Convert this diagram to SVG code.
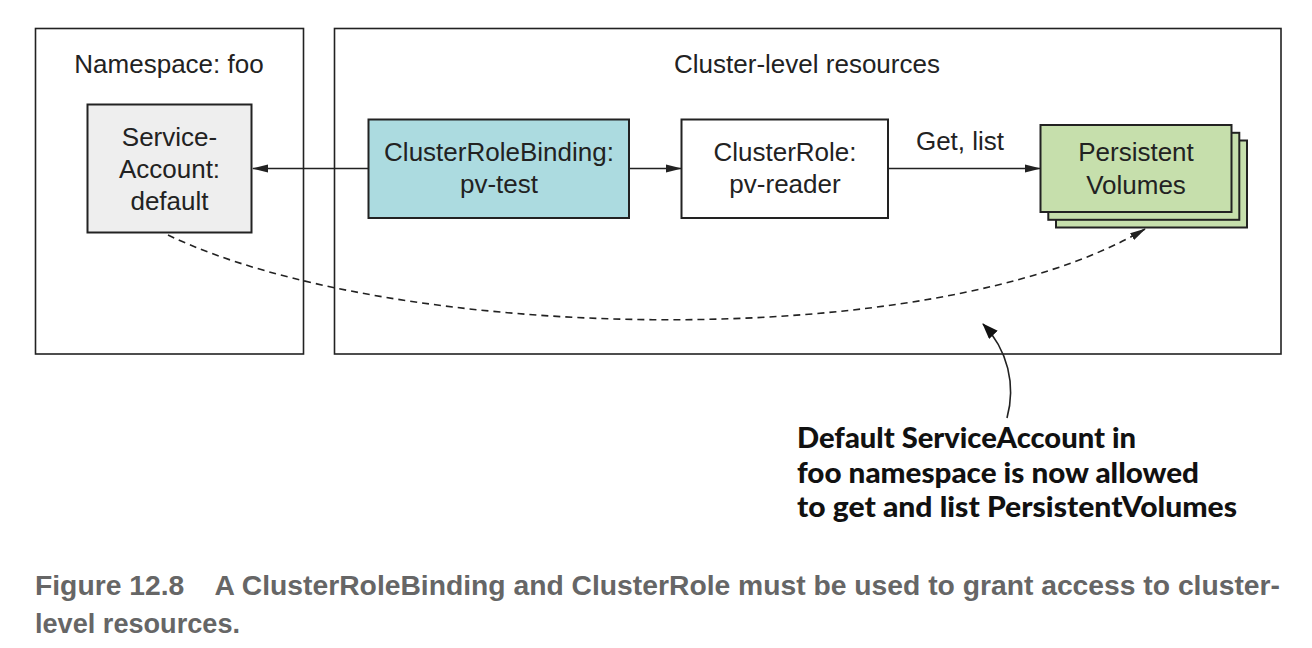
<svg xmlns="http://www.w3.org/2000/svg" width="1312" height="648" viewBox="0 0 1312 648">
<style>
.box{stroke:#222;stroke-width:2}
.frame{fill:none;stroke:#222;stroke-width:1.6}
.t{font-family:"Liberation Sans",Arial,sans-serif;font-size:26px;fill:#222;text-anchor:middle}
.conn{fill:none;stroke:#222;stroke-width:1.6}
.dash{fill:none;stroke:#222;stroke-width:1.6;stroke-dasharray:7 5}
.call{font-family:Lato,"Open Sans",sans-serif;font-weight:900;font-size:29px;fill:#111}
.cap{font-family:"Liberation Sans",Arial,sans-serif;font-weight:bold;font-size:27px;fill:#666}
</style>
<defs>
<marker id="ah" viewBox="0 0 16 10" refX="15" refY="5" markerWidth="16" markerHeight="10" markerUnits="userSpaceOnUse" orient="auto">
<path d="M0,1 L16,5 L0,9 z" fill="#222"/>
</marker>
<marker id="ah2" viewBox="0 0 16 12" refX="15" refY="6" markerWidth="16" markerHeight="12" markerUnits="userSpaceOnUse" orient="auto">
<path d="M0,0 L16,6 L0,12 z" fill="#111"/>
</marker>
</defs>
<rect width="1312" height="648" fill="#fff"/>

<g id="ns-foo">
<rect class="frame" x="35.5" y="28.5" width="268" height="325.5"/>
<text class="t" x="169" y="73">Namespace: foo</text>
</g>
<g id="cluster-level">
<rect class="frame" x="334.5" y="28.5" width="946.5" height="325.5"/>
<text class="t" x="807" y="73">Cluster-level resources</text>
</g>

<g id="connectors">
<line class="conn" x1="368" y1="168.5" x2="253" y2="168.5" marker-end="url(#ah)"/>
<line class="conn" x1="630" y1="168.5" x2="681" y2="168.5" marker-end="url(#ah)"/>
<line class="conn" x1="889" y1="168.5" x2="1040" y2="168.5" marker-end="url(#ah)"/>
<path class="dash" d="M168,235 C390,342 930,356 1145,229" marker-end="url(#ah)"/>
<path class="conn" d="M1007,418 C1016,385 1008,350 983,324" marker-end="url(#ah2)"/>
<text class="t" x="960" y="150">Get, list</text>
</g>

<g id="serviceaccount">
<rect class="box" x="87.5" y="104.5" width="164" height="128" fill="#eeeeee"/>
<text class="t" x="169.5" y="146">Service-</text>
<text class="t" x="169.5" y="178">Account:</text>
<text class="t" x="169.5" y="210">default</text>
</g>

<g id="clusterrolebinding">
<rect class="box" x="368.5" y="119.5" width="260.5" height="98.5" fill="#acdbe0"/>
<text class="t" x="499" y="161">ClusterRoleBinding:</text>
<text class="t" x="499" y="193">pv-test</text>
</g>

<g id="clusterrole">
<rect class="box" x="681.5" y="119.5" width="206.5" height="98.5" fill="#fff"/>
<text class="t" x="785" y="161">ClusterRole:</text>
<text class="t" x="785" y="193">pv-reader</text>
</g>

<g id="persistentvolumes">
<rect class="box" x="1056" y="140.5" width="191" height="87" fill="#c6dfac"/>
<rect class="box" x="1048.3" y="132.8" width="191" height="87" fill="#c6dfac"/>
<rect class="box" x="1040.5" y="125" width="191" height="87" fill="#c6dfac"/>
<text class="t" x="1136" y="161">Persistent</text>
<text class="t" x="1136" y="194">Volumes</text>
</g>

<g id="callout">
<text class="call" x="797" y="448" textLength="339" lengthAdjust="spacingAndGlyphs">Default ServiceAccount in</text>
<text class="call" x="797" y="483" textLength="402" lengthAdjust="spacingAndGlyphs">foo namespace is now allowed</text>
<text class="call" x="797" y="517" textLength="440" lengthAdjust="spacingAndGlyphs">to get and list PersistentVolumes</text>
</g>

<g id="caption">
<text class="cap" x="35" y="595" textLength="1245" lengthAdjust="spacingAndGlyphs" xml:space="preserve">Figure 12.8    A ClusterRoleBinding and ClusterRole must be used to grant access to cluster-</text>
<text class="cap" x="35" y="633" textLength="205" lengthAdjust="spacingAndGlyphs">level resources.</text>
</g>
</svg>
